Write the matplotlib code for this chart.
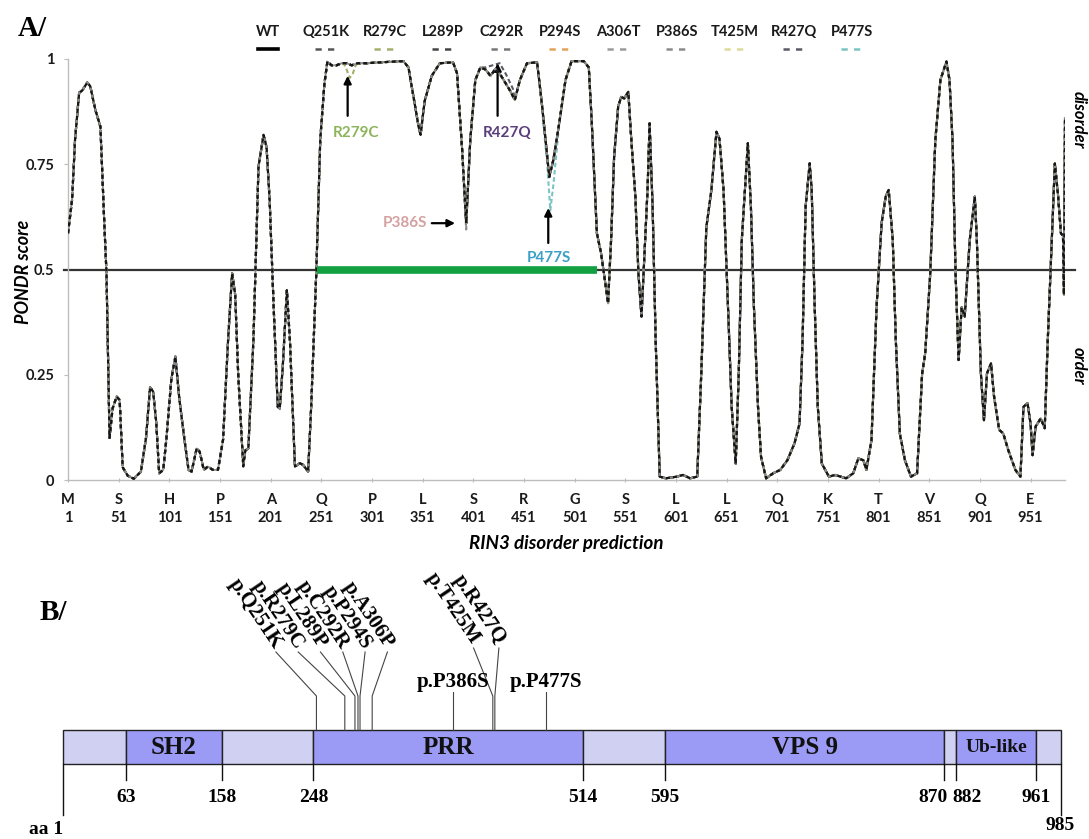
import numpy as np
import matplotlib.pyplot as plt
from matplotlib.patches import Rectangle

# ---- panel A data: PONDR score of RIN3 (WT)
wt_res = np.array([
    1, 5, 8, 12, 15, 20, 23, 28, 33, 37, 39, 42, 45, 49, 52, 55, 60, 66, 73, 78,
    82, 85, 88, 91, 95, 98, 103, 107, 111, 116, 120, 123, 128, 131, 135, 139, 144, 149, 154, 159,
    163, 166, 169, 174, 176, 179, 184, 189, 194, 197, 200, 204, 208, 210, 213, 217, 220, 225, 230, 233,
    238, 241, 246, 250, 254, 257, 261, 266, 271, 276, 281, 287, 296, 309, 332, 337, 342, 347, 349, 353,
    360, 368, 381, 385, 390, 394, 398, 403, 408, 413, 418, 423, 429, 437, 442, 447, 454, 464, 469, 474,
    476, 480, 486, 492, 498, 510, 515, 518, 521, 523, 527, 530, 534, 537, 540, 544, 547, 550, 554, 557,
    561, 564, 567, 569, 573, 575, 578, 581, 585, 591, 602, 608, 615, 622, 626, 631, 636, 641, 644, 648,
    653, 656, 660, 663, 666, 672, 675, 678, 682, 685, 690, 697, 704, 711, 718, 723, 726, 729, 733, 735,
    738, 741, 745, 752, 758, 769, 776, 781, 786, 789, 794, 799, 804, 808, 811, 815, 818, 822, 827, 833,
    839, 844, 847, 852, 857, 862, 868, 871, 874, 877, 880, 883, 886, 891, 896, 898, 902, 905, 908, 912,
    915, 920, 924, 929, 936, 941, 944, 948, 951, 953, 956, 961, 965, 968, 972, 975, 978, 981, 983, 984,
    985])
wt_score = np.array([
    0.586, 0.665, 0.81, 0.92, 0.925, 0.944, 0.935, 0.879, 0.839, 0.60, 0.49, 0.10, 0.17, 0.198, 0.19, 0.03, 0.01, 0.003, 0.02, 0.10,
    0.22, 0.21, 0.14, 0.016, 0.024, 0.095, 0.24, 0.293, 0.19, 0.095, 0.024, 0.02, 0.075, 0.067, 0.024, 0.032, 0.024, 0.024, 0.095, 0.333,
    0.491, 0.44, 0.25, 0.032, 0.07, 0.075, 0.333, 0.744, 0.82, 0.79, 0.665, 0.41, 0.174, 0.17, 0.27, 0.451, 0.333, 0.032, 0.04, 0.036,
    0.02, 0.174, 0.49, 0.81, 0.94, 0.994, 0.985, 0.985, 0.99, 0.99, 0.985, 0.99, 0.99, 0.992, 0.995, 0.98, 0.91, 0.84, 0.82, 0.90,
    0.96, 0.99, 0.992, 0.966, 0.784, 0.61, 0.807, 0.95, 0.98, 0.975, 0.96, 0.977, 0.958, 0.926, 0.903, 0.95, 0.99, 0.992, 0.887, 0.768,
    0.72, 0.76, 0.85, 0.95, 0.995, 0.995, 0.98, 0.847, 0.689, 0.586, 0.54, 0.49, 0.42, 0.57, 0.768, 0.887, 0.91, 0.906, 0.922, 0.807,
    0.673, 0.49, 0.388, 0.49, 0.69, 0.847, 0.649, 0.333, 0.008, 0.004, 0.008, 0.012, 0.004, 0.008, 0.253, 0.60, 0.689, 0.827, 0.81, 0.689,
    0.373, 0.174, 0.039, 0.253, 0.57, 0.80, 0.649, 0.41, 0.174, 0.055, 0.004, 0.016, 0.024, 0.047, 0.087, 0.134, 0.333, 0.649, 0.752, 0.689,
    0.41, 0.174, 0.039, 0.008, 0.012, 0.004, 0.016, 0.051, 0.047, 0.024, 0.095, 0.41, 0.61, 0.673, 0.689, 0.57, 0.333, 0.11, 0.047, 0.008,
    0.016, 0.253, 0.30, 0.49, 0.807, 0.95, 0.994, 0.95, 0.807, 0.49, 0.285, 0.41, 0.388, 0.57, 0.673, 0.57, 0.253, 0.142, 0.253, 0.277,
    0.198, 0.119, 0.111, 0.071, 0.024, 0.008, 0.174, 0.182, 0.134, 0.059, 0.127, 0.146, 0.123, 0.333, 0.57, 0.752, 0.68, 0.586, 0.58, 0.44,
    0.86])

# variants: only the stretches where the curve leaves the WT trace
variant_names = ['Q251K', 'R279C', 'L289P', 'C292R', 'P294S', 'A306T', 'P386S', 'T425M', 'R427Q', 'P477S']
variant_colors = ['#555555', '#a4b06a', '#444444', '#777777', '#e3a15a', '#9a9a9a', '#8a8a8a', '#d9dc9a', '#5a5a66', '#7cc4c4']
variant_dev = {
    'R279C': ([273, 276, 279, 282, 285], [0.99, 0.975, 0.955, 0.965, 0.985]),
    'P386S': ([392, 394, 396], [0.68, 0.595, 0.70]),
    'R427Q': ([413, 420, 427, 433, 440], [0.98, 0.985, 0.99, 0.965, 0.93]),
    'P477S': ([470, 474, 477, 480, 484], [0.85, 0.75, 0.64, 0.70, 0.80]),
}

tick_res = [1, 51, 101, 151, 201, 251, 301, 351, 401, 451, 501, 551, 601, 651, 701, 751, 801, 851, 901, 951]
tick_aa = ['M', 'S', 'H', 'P', 'A', 'Q', 'P', 'L', 'S', 'R', 'G', 'S', 'L', 'L', 'Q', 'K', 'T', 'V', 'Q', 'E']
disorder_region = (247, 523)
threshold = 0.5

# callouts: (label, residue, colour)
callouts = [('R279C', 277, '#8db45a'), ('R427Q', 425, '#5b3f7a'),
            ('P386S', 386, '#d4a0a0'), ('P477S', 475, '#3aa0c8')]

# ---- panel B data: RIN3 domain map
bounds = [1, 63, 158, 248, 514, 595, 870, 882, 961, 985]
domains = ['', 'SH2', '', 'PRR', '', 'VPS 9', '', 'Ub-like', '']
mut_rot = ['p.Q251K', 'p.R279C', 'p.L289P', 'p.C292R', 'p.P294S', 'p.A306P']
mut_rot_pos = [251, 279, 289, 292, 294, 306]
mut_rot2 = ['p.T425M', 'p.R427Q']
mut_rot2_pos = [425, 427]
mut_flat = ['p.P386S', 'p.P477S']
mut_flat_pos = [386, 477]

W, H = 1089, 839
fig = plt.figure(figsize=(W / 100, H / 100), dpi=100)
sans = ['Lato', 'DejaVu Sans']
serif = ['Liberation Serif', 'DejaVu Serif']


def fx(px):
    return px / W


def fy(py):
    return 1 - py / H


# ================= panel A
ax = fig.add_axes([fx(68), fy(480), fx(1065) - fx(68), fy(59) - fy(480)])
ax.set_xlim(1, 985)
ax.set_ylim(0, 1)

for name, col in reversed(list(zip(variant_names, variant_colors))):
    x, y = wt_res, wt_score
    if name in variant_dev:
        dr, ds = variant_dev[name]
        keep = (wt_res < dr[0]) | (wt_res > dr[-1])
        x = np.concatenate([wt_res[keep], dr])
        y = np.concatenate([wt_score[keep], ds])
        order = np.argsort(x, kind='stable')
        x, y = x[order], y[order]
    ax.plot(x, y, color=col, lw=1.5, ls=(0, (2.2, 1.3)), zorder=3)
# WT: grey under dark dashes, reads like the overlapping dashed traces
ax.plot(wt_res, wt_score, color='#8c8c8c', lw=1.3, zorder=4)
ax.plot(wt_res, wt_score, color='#151515', lw=1.6, ls=(0, (1.8, 1.4)), zorder=5)

ax.axhline(threshold, xmin=-0.004, xmax=1.01, color='#333333', lw=1.6, clip_on=False, zorder=2)
ax.plot(disorder_region, [threshold, threshold], color='#12a040', lw=5.5,
        solid_capstyle='butt', zorder=6)

for s in ['top', 'right']:
    ax.spines[s].set_visible(False)
for s in ['left', 'bottom']:
    ax.spines[s].set_color('#bdbdbd')
    ax.spines[s].set_linewidth(1.0)
ax.set_yticks([0, 0.25, 0.5, 0.75, 1])
ax.set_yticklabels(['0', '0.25', '0.5', '0.75', '1'])
ax.set_xticks(tick_res)
ax.set_xticklabels([f'{a}\n{r}' for a, r in zip(tick_aa, tick_res)], linespacing=1.35)
ax.tick_params(axis='both', colors='#bdbdbd', length=3, labelcolor='#1a1a1a')
ax.tick_params(axis='y', pad=7)
ax.tick_params(axis='x', direction='inout', pad=8)
for lab in ax.get_xticklabels() + ax.get_yticklabels():
    lab.set_fontfamily(sans)
    lab.set_fontweight('bold')
    lab.set_fontsize(10.5)

fig.text(fx(24), fy(272), 'PONDR score', rotation=90, ha='center', va='center',
         family=sans, weight='bold', style='italic', fontsize=13)
fig.text(fx(566), fy(543), 'RIN3 disorder prediction', ha='center', va='center',
         family=sans, weight='bold', style='italic', fontsize=13.5)
fig.text(fx(1079), fy(120), 'disorder', rotation=270, ha='center', va='center',
         family=sans, weight='bold', style='italic', fontsize=12)
fig.text(fx(1079), fy(366), 'order', rotation=270, ha='center', va='center',
         family=sans, weight='bold', style='italic', fontsize=12)
fig.text(fx(18), fy(28), 'A/', ha='left', va='center', family=serif, weight='bold', fontsize=21)

# callouts
arrow = dict(arrowstyle='-|>', color='black', lw=1.6, mutation_scale=11, shrinkA=0, shrinkB=0)
lab, r, col = callouts[0]
ax.annotate('', xy=(r, 0.96), xytext=(r, 0.865), arrowprops=arrow)
ax.text(r + 8, 0.824, lab, color=col, ha='center', va='center', family=sans, weight='bold', fontsize=11)
lab, r, col = callouts[1]
ax.annotate('', xy=(r, 0.99), xytext=(r, 0.865), arrowprops=arrow)
ax.text(r + 9, 0.824, lab, color=col, ha='center', va='center', family=sans, weight='bold', fontsize=11)
lab, r, col = callouts[2]
ax.annotate('', xy=(r - 3, 0.61), xytext=(r - 26, 0.61), arrowprops=arrow)
ax.text(r - 52, 0.61, lab, color=col, ha='center', va='center', family=sans, weight='bold', fontsize=11)
lab, r, col = callouts[3]
ax.annotate('', xy=(r, 0.646), xytext=(r, 0.563), arrowprops=arrow)
ax.text(r + 1, 0.527, lab, color=col, ha='center', va='center', family=sans, weight='bold', fontsize=11)

# legend along the top
leg_names = ['WT'] + variant_names
leg_colors = ['#000000'] + variant_colors
for i, (name, col) in enumerate(zip(leg_names, leg_colors)):
    cx = 268 + i * 58.4
    fig.text(fx(cx), fy(32), name, ha='center', va='center', family=sans, weight='bold',
             fontsize=10.5, color='#1a1a1a')
    if name == 'WT':
        fig.add_artist(plt.Line2D([fx(cx - 10), fx(cx + 10)], [fy(49), fy(49)], color=col, lw=2.6))
    else:
        fig.add_artist(plt.Line2D([fx(cx - 11), fx(cx + 11)], [fy(49), fy(49)], color=col, lw=1.8,
                                  ls=(0, (2.5, 2.5))))

# ================= panel B
bx = fig.add_axes([fx(63), 0, fx(1060.5) - fx(63), fy(570)])
bx.set_xlim(1, 985)
bx.set_ylim(H, 570)
bx.axis('off')
bar_top, bar_bot = 730, 764

for i, name in enumerate(domains):
    x0, x1 = bounds[i], bounds[i + 1]
    face = '#9b9bf5' if name else '#d0d0f2'
    bx.add_patch(Rectangle((x0, bar_top), x1 - x0, bar_bot - bar_top, facecolor=face,
                           edgecolor='#222222', lw=1.0, clip_on=False))
    if name:
        fs = 14 if name == 'Ub-like' else 18
        bx.text((x0 + x1) / 2, (bar_top + bar_bot) / 2 + 1, name, ha='center', va='center',
                family=serif, weight='bold', fontsize=fs, color='#111111')

for b in bounds[1:-1]:
    bx.plot([b, b], [bar_bot, 780], color='#111111', lw=1.0, clip_on=False)
for b in (bounds[0], bounds[-1]):
    bx.plot([b, b], [bar_bot, 815], color='#111111', lw=1.0, clip_on=False)
for b in bounds[1:-1]:
    ha = {870: 'right', 882: 'left'}.get(b, 'center')
    off = {870: 4, 882: -4}.get(b, 0)
    bx.text(b + off, 797, str(b), ha=ha, va='center', family=serif, weight='bold', fontsize=14)
bx.text(bounds[-1], 826, str(bounds[-1]), ha='center', va='center', family=serif, weight='bold', fontsize=14)
bx.annotate('aa 1', xy=(bounds[0], 829), xytext=(-12, 0), textcoords='offset points',
            ha='center', va='center', family=serif, weight='bold', fontsize=14)
fig.text(fx(40), fy(612), 'B/', ha='left', va='center', family=serif, weight='bold', fontsize=21)

# rotated mutation labels with leader lines
lab_x = [211 + 22 * i for i in range(len(mut_rot))]
for name, pos, lx in zip(mut_rot, mut_rot_pos, lab_x):
    bx.plot([lx, pos, pos], [652, 696, bar_top], color='#444444', lw=0.8, clip_on=False)
    bx.text(lx + 2, 647, name, rotation=-56, rotation_mode='anchor', ha='right', va='center',
            family=serif, weight='bold', fontsize=15)
for name, pos, lx in zip(mut_rot2, mut_rot2_pos, [406, 431]):
    bx.plot([lx, pos, pos], [648, 696, bar_top], color='#444444', lw=0.8, clip_on=False)
    bx.text(lx + 2, 642, name, rotation=-56, rotation_mode='anchor', ha='right', va='center',
            family=serif, weight='bold', fontsize=15)
for name, pos in zip(mut_flat, mut_flat_pos):
    bx.plot([pos, pos], [692, bar_top], color='#444444', lw=0.8, clip_on=False)
    bx.text(pos, 682, name, ha='center', va='center', family=serif, weight='bold', fontsize=15)

fig.savefig('out.png', dpi=100)
